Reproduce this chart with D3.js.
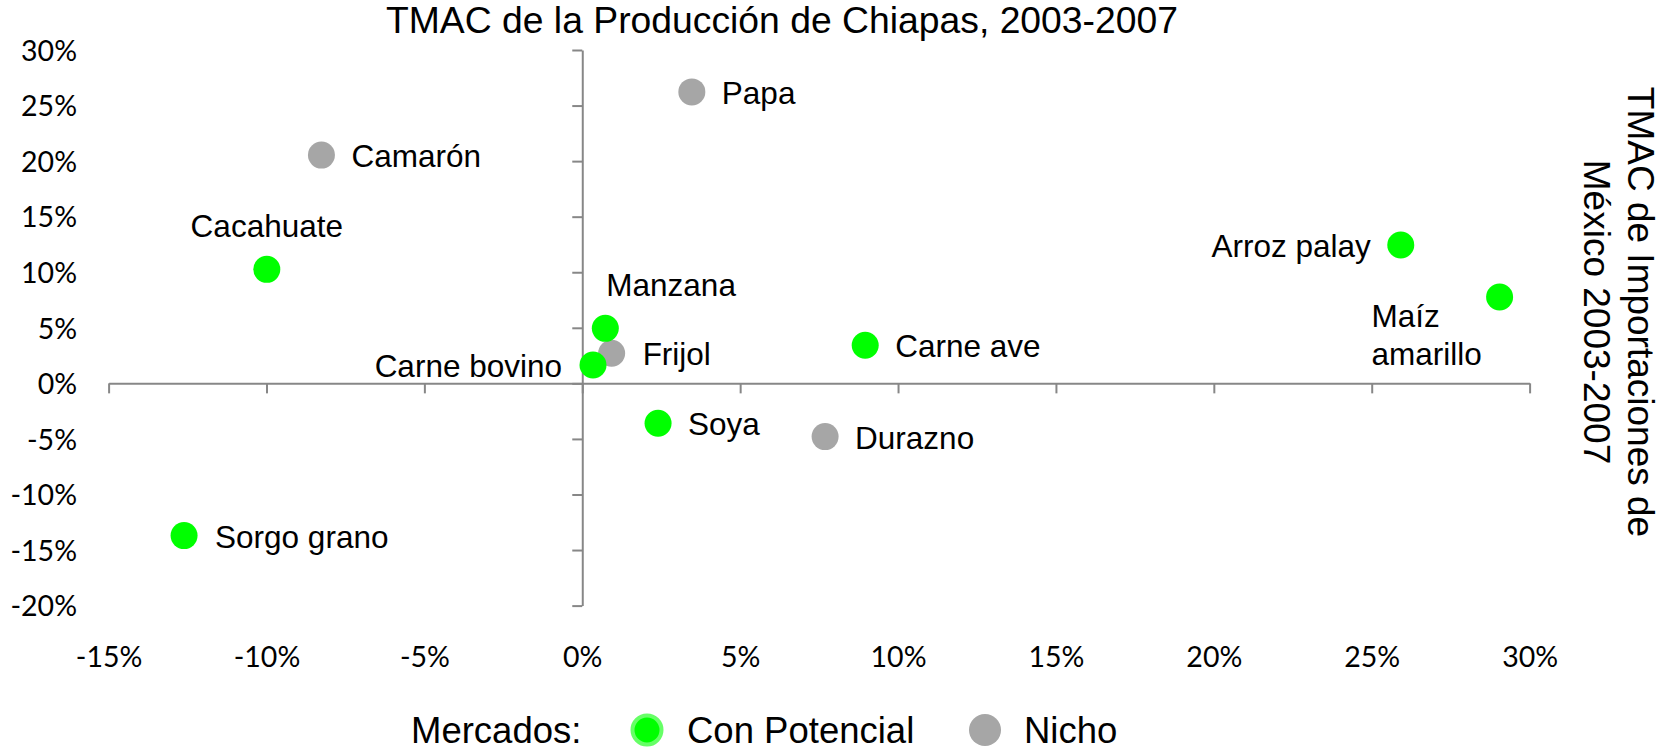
<!DOCTYPE html>
<html>
<head>
<meta charset="utf-8">
<script src="https://cdn.jsdelivr.net/npm/d3@7"></script>
<style>
  body { margin: 0; background: #fff; }
  svg { display: block; }
  .axis path, .axis line { stroke: #878787; stroke-width: 2; }
  .axis text { font-family: Lato, "Open Sans", sans-serif; font-size: 28.5px; fill: #000; }
</style>
</head>
<body>
<script>

// datos: TMAC de la produccion de Chiapas (x) vs TMAC de importaciones de Mexico (y)
var productos  = ["Papa", "Camarón", "Cacahuate", "Manzana", "Frijol", "Carne bovino",
                  "Carne ave", "Soya", "Durazno", "Sorgo grano", "Arroz palay", "Maíz amarillo"];
var tmacChiapas = [3.47, -8.26, -9.99, 0.73, 0.93, 0.34, 8.96, 2.40, 7.69, -12.61, 25.92, 29.05];
var tmacImport  = [26.23, 20.54, 10.26, 4.95, 2.71, 1.65, 3.43, -3.59, -4.79, -13.70, 12.45, 7.77];
var mercado     = ["Nicho", "Nicho", "Con Potencial", "Con Potencial", "Nicho", "Con Potencial",
                   "Con Potencial", "Con Potencial", "Nicho", "Con Potencial", "Con Potencial", "Con Potencial"];
var mercados = ["Con Potencial", "Nicho"];
var xTicks = [-15, -10, -5, 0, 5, 10, 15, 20, 25, 30];
var yTicks = [-20, -15, -10, -5, 0, 5, 10, 15, 20, 25, 30];

// where each label sits relative to its point: dx, dy, anchor
var etiquetas = {
  "Papa":          [30, 12, "start"],
  "Camarón":       [30, 12, "start"],
  "Cacahuate":     [0, -32, "middle"],
  "Manzana":       [1, -32, "start"],
  "Frijol":        [31, 12, "start"],
  "Carne bovino":  [-31, 12, "end"],
  "Carne ave":     [30, 12, "start"],
  "Soya":          [30, 12, "start"],
  "Durazno":       [30, 12, "start"],
  "Sorgo grano":   [31, 12, "start"],
  "Arroz palay":   [-30, 12, "end"],
  "Maíz amarillo": [-128, 30, "start"]
};

var W = 1669, H = 752;
var color = d3.scaleOrdinal().domain(mercados).range(["#00ff00", "#a6a6a6"]);

var x = d3.scaleLinear().domain([-15, 30]).range([108.6, 1529.6]);
var y = d3.scaleLinear().domain([-20, 30]).range([605.6, 50]);
var fmt = function(d) { return d + "%"; };

var svg = d3.select("body").append("svg")
    .attr("width", W)
    .attr("height", H);

// titulo
svg.append("text")
    .attr("x", 782)
    .attr("y", 33)
    .attr("text-anchor", "middle")
    .style("font-family", "Liberation Sans, Arial, sans-serif")
    .style("font-size", "37.3px")
    .text("TMAC de la Producción de Chiapas, 2003-2007");

// eje x sobre y=0, etiquetas abajo
var gx = svg.append("g")
    .attr("class", "axis")
    .attr("transform", "translate(0," + y(0) + ")")
    .call(d3.axisBottom(x).tickValues(xTicks).tickSize(10).tickSizeOuter(0).tickFormat(fmt));
gx.selectAll("text")
    .attr("y", 667 - y(0))
    .attr("dy", 0);

// eje y sobre x=0, etiquetas a la izquierda
var gy = svg.append("g")
    .attr("class", "axis")
    .attr("transform", "translate(" + x(0) + ",0)")
    .call(d3.axisLeft(y).tickValues(yTicks).tickSize(10).tickSizeOuter(0).tickFormat(fmt));
gy.selectAll("text")
    .attr("x", 77 - x(0))
    .attr("dy", "0.36em");

// titulo del eje derecho
var ytitle = svg.append("text")
    .attr("transform", "translate(1628,312) rotate(90)")
    .attr("text-anchor", "middle")
    .style("font-family", "Liberation Sans, Arial, sans-serif")
    .style("font-size", "37px");
ytitle.append("tspan").attr("x", 0).attr("dy", 0).text("TMAC de Importaciones de");
ytitle.append("tspan").attr("x", 0).attr("dy", 44).text("México 2003-2007");

// puntos: nicho primero, verdes encima
var data = productos.map(function(p, i) {
  return { nombre: p, x: tmacChiapas[i], y: tmacImport[i], m: mercado[i] };
});
data.sort(function(a, b) { return mercados.indexOf(b.m) - mercados.indexOf(a.m); });

svg.append("g").selectAll("circle")
    .data(data)
  .enter().append("circle")
    .attr("cx", function(d) { return x(d.x); })
    .attr("cy", function(d) { return y(d.y); })
    .attr("r", 13.5)
    .attr("fill", function(d) { return color(d.m); });

var labels = svg.append("g")
    .style("font-family", "Liberation Sans, Arial, sans-serif")
    .style("font-size", "31.5px")
  .selectAll("text")
    .data(data)
  .enter().append("text")
    .attr("x", function(d) { return x(d.x) + etiquetas[d.nombre][0]; })
    .attr("y", function(d) { return y(d.y) + etiquetas[d.nombre][1]; })
    .attr("text-anchor", function(d) { return etiquetas[d.nombre][2]; });

labels.each(function(d) {
  var t = d3.select(this);
  if (d.nombre === "Maíz amarillo") {
    var px = x(d.x) + etiquetas[d.nombre][0];
    d.nombre.split(" ").forEach(function(w, k) {
      t.append("tspan").attr("x", px).attr("dy", k ? 38 : 0).text(w);
    });
  } else {
    t.text(d.nombre);
  }
});

// leyenda (un poco mas arriba para que no se corte el texto)
var legY = 743;
var leg = svg.append("g")
    .style("font-family", "Liberation Sans, Arial, sans-serif")
    .style("font-size", "36.5px");
leg.append("text").attr("x", 411).attr("y", legY).text("Mercados:");

var legPos = [{cx: 647, tx: 687}, {cx: 985, tx: 1024}];
mercados.forEach(function(m, i) {
  leg.append("circle")
      .attr("cx", legPos[i].cx)
      .attr("cy", legY - 13)
      .attr("r", i === 0 ? 14.5 : 16)
      .attr("fill", color(m))
      .attr("stroke", i === 0 ? "#66ff66" : "none")
      .attr("stroke-width", 4);
  leg.append("text").attr("x", legPos[i].tx).attr("y", legY).text(m);
});

</script>
</body>
</html>
